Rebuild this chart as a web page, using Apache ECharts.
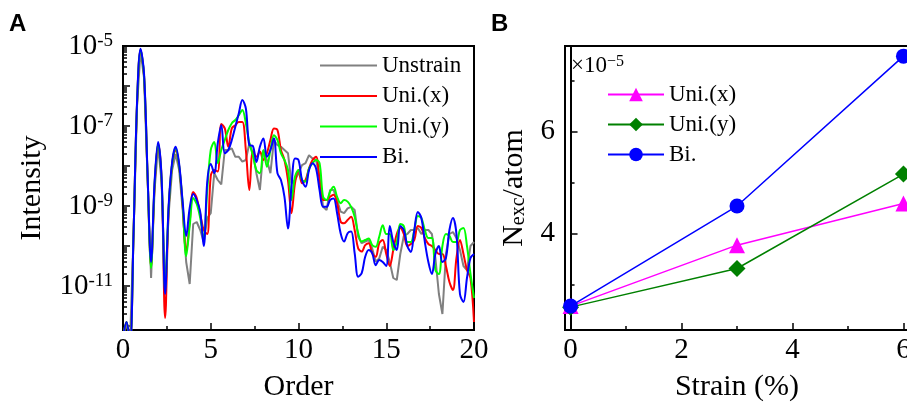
<!DOCTYPE html>
<html>
<head>
<meta charset="utf-8">
<script src="https://cdn.jsdelivr.net/npm/echarts@6/dist/echarts.min.js"></script>
<style>
  html, body { margin: 0; padding: 0; background: #fff; }
  #chart { width: 907px; height: 407px; }
</style>
</head>
<body>
<div id="chart"></div>
<script>
// ---- panel A: harmonic intensity, stored as log10(intensity), one row per unit of order ----
const order = [];
for (let i = 0; i <= 100; i++) order.push(+(i * 0.2).toFixed(1));

const unstrainLog = [
  -12.3, -11.9, -12.4, -9.75, -6.5,
  -5.12, -5.8, -8.3, -10.8, -8.6,
  -7.5, -8.4, -11.2, -9.2, -8.1,
  -7.7, -8.1, -9.1, -10.4, -10.95,
  -9.45, -9.4, -9.6, -9.9, -9.3,
  -9.18, -8.18, -8.35, -8.46, -7.6,
  -7.6, -7.56, -7.77, -7.77, -7.89,
  -7.85, -7.43, -7.68, -8.18, -8.6,
  -7.6, -7.85, -8.18, -7.35, -7.48,
  -7.52, -7.6, -7.68, -8.43, -8.35,
  -8.18, -7.98, -7.93, -7.73, -7.81,
  -7.85, -8.27, -9.02, -9.1, -8.6,
  -8.6, -8.85, -9.14, -9.18, -9.06,
  -9.02, -9.1, -9.77, -9.93, -9.89,
  -9.85, -10.06, -10.39, -10.31, -10.02,
  -10.1, -10.4, -10.8, -10.85, -10.2,
  -9.75, -9.7, -9.6, -9.6, -9.55,
  -9.7, -9.6, -9.6, -9.7, -10.3,
  -11.2, -11.7, -10.2, -9.7, -9.65,
  -9.8, -10.1, -10.5, -10.6, -10.0,
  -9.9
];
const uniXLog = [
  -12.3, -11.9, -12.4, -9.7, -6.45,
  -5.1, -5.75, -8.25, -10.5, -8.5,
  -7.45, -8.35, -11.8, -9.1, -7.95,
  -7.6, -8.0, -9.0, -10.15, -9.4,
  -8.65, -8.8, -9.2, -9.6, -9.7,
  -8.25, -8.1, -8.14, -6.95, -7.06,
  -7.52, -7.06, -6.98, -6.9, -6.9,
  -7.6, -8.6, -7.64, -7.77, -7.64,
  -7.85, -7.68, -7.35, -7.06, -7.1,
  -7.6, -7.85, -8.35, -9.18, -8.43,
  -8.1, -8.43, -8.35, -8.06, -7.85,
  -7.77, -8.35, -8.85, -8.85, -8.77,
  -8.72, -8.93, -9.39, -9.43, -9.35,
  -9.27, -9.6, -10.06, -10.14, -9.98,
  -9.93, -10.18, -10.27, -9.93, -9.85,
  -10.2, -10.5, -10.1, -9.7, -9.55,
  -9.7, -10.0, -9.95, -9.85, -9.5,
  -9.55, -9.8, -9.95, -10.0, -10.1,
  -10.2, -10.2, -10.5, -10.9, -11.1,
  -10.3, -9.85, -10.2, -10.6, -10.8,
  -11.9
];
const uniYLog = [
  -12.3, -11.9, -12.4, -9.7, -6.45,
  -5.1, -5.75, -8.25, -10.55, -8.45,
  -7.45, -8.35, -11.1, -9.05, -7.95,
  -7.55, -8.0, -8.95, -10.25, -9.5,
  -8.8, -8.95, -9.3, -9.8, -8.6,
  -7.6, -7.4, -7.93, -7.6, -7.35,
  -7.1, -6.93, -6.85, -6.73, -6.6,
  -6.93, -7.43, -7.73, -8.1, -8.18,
  -7.6, -8.02, -7.6, -7.23, -7.35,
  -7.68, -7.85, -8.1, -8.85, -8.27,
  -8.1, -8.35, -8.39, -8.06, -7.93,
  -7.85, -7.93, -8.77, -8.85, -8.64,
  -8.52, -8.77, -8.93, -8.85, -8.89,
  -9.02, -9.27, -9.68, -9.89, -9.85,
  -9.81, -9.98, -10.02, -9.77, -9.48,
  -9.7, -9.7, -10.1, -9.9, -9.45,
  -9.5, -9.9, -9.9, -9.6, -9.25,
  -9.3, -9.6, -9.8, -9.8, -10.6,
  -10.7, -10.0, -9.7, -9.75, -9.9,
  -9.9, -9.6, -9.55, -10.0, -10.7,
  -11.3
];
const biLog = [
  -12.3, -11.9, -12.4, -9.7, -6.4,
  -5.07, -5.7, -8.2, -10.4, -8.4,
  -7.4, -8.3, -11.2, -9.0, -7.9,
  -7.52, -7.95, -8.9, -9.75, -9.05,
  -8.7, -8.85, -9.15, -10.0, -8.4,
  -7.95, -8.18, -7.43, -6.98, -7.68,
  -7.6, -7.35, -7.02, -6.68, -6.35,
  -6.56, -7.48, -7.5, -7.9, -7.52,
  -7.31, -7.77, -7.6, -7.31, -8.18,
  -8.35, -8.77, -9.56, -8.52, -7.81,
  -7.85, -8.35, -8.52, -8.1, -7.93,
  -8.06, -8.6, -9.02, -9.02, -8.85,
  -8.81, -9.18, -9.68, -9.89, -9.68,
  -9.64, -10.18, -10.77, -10.68, -10.27,
  -10.1, -10.18, -10.48, -10.35, -10.4,
  -10.5, -9.5, -9.9, -10.1, -9.5,
  -9.6, -10.0, -10.15, -9.6, -9.15,
  -9.3, -9.9, -10.4, -10.7, -10.2,
  -10.0, -10.4, -10.3, -9.6, -9.3,
  -9.7, -11.2, -11.4, -10.8, -10.3,
  -10.2
];
const decadeTicks = [-12, -11, -10, -9, -8, -7, -6, -5];
const decadeLabels = [-11, -9, -7, -5];
const orderTicks = [0, 5, 10, 15, 20];

// ---- panel B: excited carriers per atom (x 1e-5) ----
const strain = [0, 3, 6];
const nUniX = [2.57, 3.77, 4.59];
const nUniY = [2.55, 3.31, 5.17];
const nBi = [2.57, 4.54, 7.49];
const strainTicks = [0, 2, 4, 6];
const strainMinor = [1, 3, 5];
const nTicks = [4, 6];
const nMinor = [3, 5, 7];

// log minor tick positions (2..9 x 10^n) inside the visible range
const logMinor = [];
for (let n = -13; n < -5; n++) {
  for (let k = 2; k <= 9; k++) {
    const v = n + Math.log10(k);
    if (v > -12.1 && v < -5) logMinor.push(v);
  }
}

const serif = '"Liberation Serif", "Times New Roman", serif';
const black = '#000';
const pair = (xs, ys) => xs.map((x, i) => [x, ys[i]]);

const axisLine = { lineStyle: { color: black, width: 2 } };
const tickStyle = { color: black, width: 1.5 };
const labelFont = { fontFamily: serif, fontSize: 29, color: black };
const nameFont = { fontFamily: serif, fontSize: 30, color: black };

const option = {
  animation: false,
  backgroundColor: '#fff',
  title: [
    { text: 'A', left: 9, top: 12, padding: 0,
      textStyle: { fontFamily: 'Liberation Sans', fontWeight: 'bold', fontSize: 24, color: black } },
    { text: 'B', left: 491, top: 12, padding: 0,
      textStyle: { fontFamily: 'Liberation Sans', fontWeight: 'bold', fontSize: 24, color: black } }
  ],
  grid: [
    { left: 123, top: 46, width: 351, height: 284, outerBoundsMode: 'none',
      show: true, borderColor: black, borderWidth: 2 },
    { left: 565, top: 46, width: 344, height: 284, outerBoundsMode: 'none',
      show: true, borderColor: black, borderWidth: 2 }
  ],
  legend: [
    {
      orient: 'vertical', left: 320, top: 54, padding: 0,
      icon: 'rect', itemWidth: 57, itemHeight: 2, itemGap: 7.5,
      textStyle: { fontFamily: serif, fontSize: 23, color: black },
      data: ['Unstrain', 'Uni.(x)', 'Uni.(y)', 'Bi.']
    },
    {
      orient: 'vertical', left: 607, top: 83, padding: 0,
      itemWidth: 56, itemHeight: 17, itemGap: 7,
      textStyle: { fontFamily: serif, fontSize: 23, color: black },
      formatter: (n) => n.trim(),
      data: ['Uni.(x) ', 'Uni.(y) ', 'Bi. ']
    }
  ],
  graphic: [
    {
      type: 'text', left: 571, top: 54,
      style: {
        text: '{a|×10}{e|−5}',
        rich: {
          a: { fontFamily: serif, fontSize: 23, fill: black, verticalAlign: 'bottom' },
          e: { fontFamily: serif, fontSize: 16, fill: black, verticalAlign: 'top' }
        }
      }
    }
  ],
  xAxis: [
    {
      gridIndex: 0, type: 'value', min: 0, max: 20, interval: 5,
      name: 'Order', nameLocation: 'middle', nameGap: 42, nameTextStyle: nameFont,
      axisLine: axisLine,
      axisTick: { inside: true, length: 7, customValues: orderTicks, lineStyle: tickStyle },
      minorTick: { show: true, splitNumber: 2, length: 4, lineStyle: tickStyle },
      axisLabel: Object.assign({ margin: 6 }, labelFont),
      splitLine: { show: false }
    },
    {
      gridIndex: 1, type: 'value', min: -0.1, max: 6.1,
      name: 'Strain (%)', nameLocation: 'middle', nameGap: 42, nameTextStyle: nameFont,
      axisLine: axisLine,
      axisTick: { inside: true, length: 7, customValues: strainTicks, lineStyle: tickStyle },
      axisLabel: Object.assign({ margin: 6, customValues: strainTicks }, labelFont),
      splitLine: { show: false }
    },
    {
      gridIndex: 1, type: 'value', min: -0.1, max: 6.1, position: 'bottom',
      axisLine: { show: false },
      axisTick: { inside: true, length: 4, customValues: strainMinor, lineStyle: tickStyle },
      axisLabel: { show: false },
      splitLine: { show: false }
    }
  ],
  yAxis: [
    {
      gridIndex: 0, type: 'value', min: -12.1, max: -5,
      name: 'Intensity', nameLocation: 'middle', nameGap: 76, nameTextStyle: nameFont,
      axisLine: axisLine,
      axisTick: { inside: true, length: 7, customValues: decadeTicks, lineStyle: tickStyle },
      axisLabel: {
        margin: 10,
        customValues: decadeLabels,
        formatter: (v) => '{b|10}{s|' + v + '}',
        rich: {
          b: { fontFamily: serif, fontSize: 29, color: black },
          s: { fontFamily: serif, fontSize: 19, color: black, verticalAlign: 'top' }
        }
      },
      splitLine: { show: false }
    },
    {
      gridIndex: 0, type: 'value', min: -12.1, max: -5, position: 'left',
      axisLine: { show: false },
      axisTick: { inside: true, length: 4, customValues: logMinor, lineStyle: tickStyle },
      axisLabel: { show: false },
      splitLine: { show: false }
    },
    {
      gridIndex: 1, type: 'value', min: 2.1, max: 7.69,
      name: '{n|N}{sub|exc}{n|/atom}', nameLocation: 'middle', nameGap: 36,
      nameTextStyle: {
        rich: {
          n: { fontFamily: serif, fontSize: 30, color: black },
          sub: { fontFamily: serif, fontSize: 20, color: black, verticalAlign: 'bottom' }
        }
      },
      axisLine: axisLine,
      axisTick: { inside: true, length: 7, customValues: nTicks, lineStyle: tickStyle },
      axisLabel: Object.assign({ margin: 10, customValues: nTicks }, labelFont),
      splitLine: { show: false }
    },
    {
      gridIndex: 1, type: 'value', min: 2.1, max: 7.69, position: 'left',
      axisLine: { show: false },
      axisTick: { inside: true, length: 4, customValues: nMinor, lineStyle: tickStyle },
      axisLabel: { show: false },
      splitLine: { show: false }
    }
  ],
  series: [
    { name: 'Unstrain', type: 'line', xAxisIndex: 0, yAxisIndex: 0, symbol: 'none', smooth: false,
      data: pair(order, unstrainLog), lineStyle: { color: '#808080', width: 2 }, itemStyle: { color: '#808080' } },
    { name: 'Uni.(x)', type: 'line', xAxisIndex: 0, yAxisIndex: 0, symbol: 'none', smooth: 0.35,
      data: pair(order, uniXLog), lineStyle: { color: '#ff0000', width: 2 }, itemStyle: { color: '#ff0000' } },
    { name: 'Uni.(y)', type: 'line', xAxisIndex: 0, yAxisIndex: 0, symbol: 'none', smooth: 0.35,
      data: pair(order, uniYLog), lineStyle: { color: '#00ff00', width: 2 }, itemStyle: { color: '#00ff00' } },
    { name: 'Bi.', type: 'line', xAxisIndex: 0, yAxisIndex: 0, symbol: 'none', smooth: 0.35,
      data: pair(order, biLog), lineStyle: { color: '#0000ff', width: 2 }, itemStyle: { color: '#0000ff' } },

    { name: 'Uni.(x) ', type: 'line', xAxisIndex: 1, yAxisIndex: 2, symbol: 'triangle', symbolSize: 16,
      data: pair(strain, nUniX), lineStyle: { color: '#ff00ff', width: 1.5 }, itemStyle: { color: '#ff00ff' } },
    { name: 'Uni.(y) ', type: 'line', xAxisIndex: 1, yAxisIndex: 2, symbol: 'diamond', symbolSize: 17,
      data: pair(strain, nUniY), lineStyle: { color: '#008000', width: 1.5 }, itemStyle: { color: '#008000' } },
    { name: 'Bi. ', type: 'line', xAxisIndex: 1, yAxisIndex: 2, symbol: 'circle', symbolSize: 15,
      data: pair(strain, nBi), lineStyle: { color: '#0000ff', width: 1.5 }, itemStyle: { color: '#0000ff' } }
  ]
};

const chart = echarts.init(document.getElementById('chart'));
chart.setOption(option);
</script>
</body>
</html>
